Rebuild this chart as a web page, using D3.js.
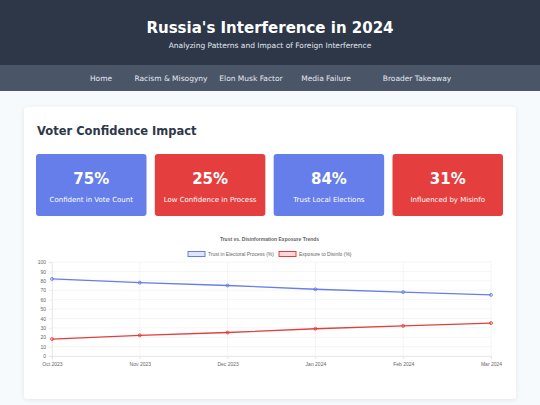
<!DOCTYPE html>
<html><head><meta charset="utf-8">
<script src="https://cdn.jsdelivr.net/npm/d3@7"></script>
<style>body{margin:0;background:#f7fafc;font-family:"DejaVu Sans",sans-serif;}</style>
</head><body><svg id="page" width="540" height="405"></svg>
<script>
// chart data
const months = ["Oct 2023", "Nov 2023", "Dec 2023", "Jan 2024", "Feb 2024", "Mar 2024"];
const trust = [82, 78, 75, 71, 68, 65];
const disinfo = [18, 22, 25, 29, 32, 35];
const navItems = ["Home", "Racism & Misogyny", "Elon Musk Factor", "Media Failure", "Broader Takeaway"];
const statValues = ["75%", "25%", "84%", "31%"];
const statLabels = ["Confident in Vote Count", "Low Confidence in Process", "Trust Local Elections", "Influenced by Misinfo"];

const svg = d3.select("#page");
const W = 540;

// header
svg.append("rect").attr("width", W).attr("height", 65).attr("fill", "#2d3748");
svg.append("text").attr("x", W / 2).attr("y", 33).attr("text-anchor", "middle")
	.attr("fill", "#fff").style("font-size", "15px").style("font-weight", "bold")
	.text("Russia's Interference in 2024");
svg.append("text").attr("x", W / 2).attr("y", 48).attr("text-anchor", "middle")
	.attr("fill", "#e2e8f0").style("font-size", "7.5px")
	.text("Analyzing Patterns and Impact of Foreign Interference");

// nav
svg.append("rect").attr("y", 65).attr("width", W).attr("height", 26).attr("fill", "#4a5568");
const navX = [101, 171, 251, 326, 417];
svg.selectAll(".nav").data(navItems).join("text")
	.attr("x", (d, i) => navX[i]).attr("y", 81).attr("text-anchor", "middle")
	.attr("fill", "#e2e8f0").style("font-size", "7.5px").text(d => d);

// card
svg.append("rect").attr("x", 24).attr("y", 107).attr("width", 492).attr("height", 292)
	.attr("rx", 3).attr("fill", "#fff").style("filter", "drop-shadow(0 1px 2px rgba(0,0,0,0.08))");
svg.append("text").attr("x", 37).attr("y", 135).attr("fill", "#2d3748")
	.style("font-size", "11.5px").style("font-weight", "bold").text("Voter Confidence Impact");

// stat boxes
const boxX = d3.scaleBand().domain(d3.range(4)).range([36, 503]).paddingInner(0.07);
const stat = svg.selectAll(".stat").data(statValues).join("g")
	.attr("transform", (d, i) => `translate(${boxX(i)},154)`);
stat.append("rect").attr("width", boxX.bandwidth()).attr("height", 62).attr("rx", 3)
	.attr("fill", (d, i) => i % 2 ? "#e53e3e" : "#667eea");
stat.append("text").attr("x", boxX.bandwidth() / 2).attr("y", 30).attr("text-anchor", "middle")
	.attr("fill", "#fff").style("font-size", "15px").style("font-weight", "bold").text(d => d);
stat.append("text").attr("x", boxX.bandwidth() / 2).attr("y", 48).attr("text-anchor", "middle")
	.attr("fill", "#fff").style("font-size", "7px").text((d, i) => statLabels[i]);

// line chart
const plotL = 52, plotR = 491, plotT = 262, plotB = 356;
const x = d3.scalePoint().domain(months).range([plotL, plotR]);
const y = d3.scaleLinear().domain([0, 100]).range([plotB, plotT]);
const chart = svg.append("g").style("font-family", "Liberation Sans, Arial, sans-serif");

chart.append("text").attr("x", (plotL + plotR) / 2 - 2).attr("y", 241).attr("text-anchor", "middle")
	.attr("fill", "#666").style("font-size", "5px").style("font-weight", "bold")
	.text("Trust vs. Disinformation Exposure Trends");

// grid
chart.append("g").selectAll("line").data(y.ticks(10)).join("line")
	.attr("x1", plotL).attr("x2", plotR).attr("y1", d => y(d)).attr("y2", d => y(d))
	.attr("stroke", "#ebebeb").attr("stroke-width", 0.5);
chart.append("g").selectAll("line").data(months).join("line")
	.attr("x1", d => x(d)).attr("x2", d => x(d)).attr("y1", plotT).attr("y2", plotB + 3)
	.attr("stroke", "#ebebeb").attr("stroke-width", 0.5);

const yAxis = chart.append("g").attr("transform", `translate(${plotL},0)`)
	.call(d3.axisLeft(y).ticks(10).tickSize(3));
const xAxis = chart.append("g").attr("transform", `translate(0,${plotB})`)
	.call(d3.axisBottom(x).tickSize(3));
[yAxis, xAxis].forEach(a => {
	a.select(".domain").attr("stroke", "#ddd").attr("stroke-width", 0.5);
	a.selectAll(".tick line").attr("stroke", "#ddd").attr("stroke-width", 0.5);
	a.selectAll("text").attr("fill", "#666").style("font-size", "5px").style("font-family", "Liberation Sans, Arial, sans-serif");
});

const series = [
	{ name: "Trust in Electoral Process (%)", values: trust, color: "#667eea", fill: "rgba(102,126,234,0.2)" },
	{ name: "Exposure to Disinfo (%)", values: disinfo, color: "#e53e3e", fill: "rgba(229,62,62,0.2)" }
];
const line = d3.line().x((d, i) => x(months[i])).y(d => y(d));
series.forEach(s => {
	chart.append("path").datum(s.values).attr("d", line).attr("fill", "none")
		.attr("stroke", s.color).attr("stroke-width", 1.3);
	chart.append("g").selectAll("circle").data(s.values).join("circle")
		.attr("cx", (d, i) => x(months[i])).attr("cy", d => y(d)).attr("r", 1.5)
		.attr("fill", s.fill).attr("stroke", s.color).attr("stroke-width", 0.8);
});

// legend
const legX = [188, 279];
series.forEach((s, i) => {
	chart.append("rect").attr("x", legX[i]).attr("y", 251.5).attr("width", 17).attr("height", 5)
		.attr("fill", s.fill).attr("stroke", s.color).attr("stroke-width", 1);
	chart.append("text").attr("x", legX[i] + 20).attr("y", 256).attr("fill", "#666")
		.style("font-size", "5px").text(s.name);
});
</script></body></html>
